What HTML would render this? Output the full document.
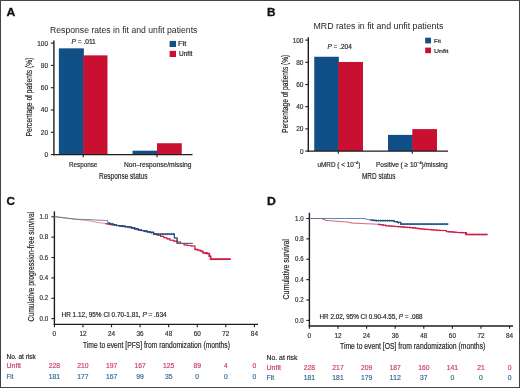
<!DOCTYPE html>
<html><head><meta charset="utf-8"><style>
html,body{margin:0;padding:0;background:#fff;}
svg{display:block;font-family:"Liberation Sans", sans-serif;will-change:transform;}

</style></head><body><div id="w">
<svg width="520" height="388" viewBox="0 0 520 388">
<rect x="0" y="0" width="520" height="388" fill="#fff"/>
<rect x="58.85" y="48.34" width="25.00" height="106.26" fill="#105087"/>
<rect x="83.25" y="55.36" width="24.25" height="99.23" fill="#c91030"/>
<rect x="132.50" y="150.70" width="25.10" height="3.90" fill="#105087"/>
<rect x="157.00" y="143.23" width="24.75" height="11.37" fill="#c91030"/>
<line x1="50.90" y1="154.60" x2="53.90" y2="154.60" stroke="#1e1e1e" stroke-width="1.1"/>
<line x1="50.90" y1="132.30" x2="53.90" y2="132.30" stroke="#1e1e1e" stroke-width="1.1"/>
<line x1="50.90" y1="110.00" x2="53.90" y2="110.00" stroke="#1e1e1e" stroke-width="1.1"/>
<line x1="50.90" y1="87.70" x2="53.90" y2="87.70" stroke="#1e1e1e" stroke-width="1.1"/>
<line x1="50.90" y1="65.40" x2="53.90" y2="65.40" stroke="#1e1e1e" stroke-width="1.1"/>
<line x1="50.90" y1="43.10" x2="53.90" y2="43.10" stroke="#1e1e1e" stroke-width="1.1"/>
<line x1="53.90" y1="40.50" x2="53.90" y2="155.25" stroke="#1e1e1e" stroke-width="1.4"/>
<line x1="53.25" y1="154.60" x2="192.50" y2="154.60" stroke="#1e1e1e" stroke-width="1.4"/>
<line x1="83.25" y1="154.60" x2="83.25" y2="157.20" stroke="#1e1e1e" stroke-width="1.1"/>
<line x1="157.00" y1="154.60" x2="157.00" y2="157.20" stroke="#1e1e1e" stroke-width="1.1"/>
<rect x="169.60" y="40.90" width="6.40" height="6.10" fill="#105087"/>
<rect x="169.60" y="50.90" width="6.40" height="6.10" fill="#c91030"/>
<rect x="314.25" y="56.75" width="24.60" height="94.35" fill="#105087"/>
<rect x="338.25" y="61.97" width="24.75" height="89.13" fill="#c91030"/>
<rect x="388.00" y="134.89" width="24.90" height="16.21" fill="#105087"/>
<rect x="412.30" y="129.12" width="24.70" height="21.98" fill="#c91030"/>
<line x1="305.30" y1="151.10" x2="308.30" y2="151.10" stroke="#1e1e1e" stroke-width="1.1"/>
<line x1="305.30" y1="128.90" x2="308.30" y2="128.90" stroke="#1e1e1e" stroke-width="1.1"/>
<line x1="305.30" y1="106.70" x2="308.30" y2="106.70" stroke="#1e1e1e" stroke-width="1.1"/>
<line x1="305.30" y1="84.50" x2="308.30" y2="84.50" stroke="#1e1e1e" stroke-width="1.1"/>
<line x1="305.30" y1="62.30" x2="308.30" y2="62.30" stroke="#1e1e1e" stroke-width="1.1"/>
<line x1="305.30" y1="40.10" x2="308.30" y2="40.10" stroke="#1e1e1e" stroke-width="1.1"/>
<line x1="308.30" y1="37.30" x2="308.30" y2="151.75" stroke="#1e1e1e" stroke-width="1.4"/>
<line x1="307.65" y1="151.10" x2="448.00" y2="151.10" stroke="#1e1e1e" stroke-width="1.4"/>
<line x1="338.25" y1="151.10" x2="338.25" y2="153.70" stroke="#1e1e1e" stroke-width="1.1"/>
<line x1="412.30" y1="151.10" x2="412.30" y2="153.70" stroke="#1e1e1e" stroke-width="1.1"/>
<rect x="425.20" y="37.70" width="5.80" height="5.70" fill="#105087"/>
<rect x="425.20" y="47.60" width="5.80" height="5.60" fill="#c91030"/>
<line x1="51.40" y1="318.60" x2="54.40" y2="318.60" stroke="#1e1e1e" stroke-width="1.1"/>
<line x1="51.40" y1="298.24" x2="54.40" y2="298.24" stroke="#1e1e1e" stroke-width="1.1"/>
<line x1="51.40" y1="277.88" x2="54.40" y2="277.88" stroke="#1e1e1e" stroke-width="1.1"/>
<line x1="51.40" y1="257.52" x2="54.40" y2="257.52" stroke="#1e1e1e" stroke-width="1.1"/>
<line x1="51.40" y1="237.16" x2="54.40" y2="237.16" stroke="#1e1e1e" stroke-width="1.1"/>
<line x1="51.40" y1="216.80" x2="54.40" y2="216.80" stroke="#1e1e1e" stroke-width="1.1"/>
<line x1="54.40" y1="211.40" x2="54.40" y2="325.05" stroke="#1e1e1e" stroke-width="1.4"/>
<line x1="53.75" y1="324.40" x2="258.00" y2="324.40" stroke="#1e1e1e" stroke-width="1.4"/>
<line x1="54.40" y1="324.40" x2="54.40" y2="327.20" stroke="#1e1e1e" stroke-width="1.1"/>
<line x1="82.97" y1="324.40" x2="82.97" y2="327.20" stroke="#1e1e1e" stroke-width="1.1"/>
<line x1="111.54" y1="324.40" x2="111.54" y2="327.20" stroke="#1e1e1e" stroke-width="1.1"/>
<line x1="140.11" y1="324.40" x2="140.11" y2="327.20" stroke="#1e1e1e" stroke-width="1.1"/>
<line x1="168.68" y1="324.40" x2="168.68" y2="327.20" stroke="#1e1e1e" stroke-width="1.1"/>
<line x1="197.25" y1="324.40" x2="197.25" y2="327.20" stroke="#1e1e1e" stroke-width="1.1"/>
<line x1="225.82" y1="324.40" x2="225.82" y2="327.20" stroke="#1e1e1e" stroke-width="1.1"/>
<line x1="254.39" y1="324.40" x2="254.39" y2="327.20" stroke="#1e1e1e" stroke-width="1.1"/>
<line x1="306.30" y1="320.40" x2="309.40" y2="320.40" stroke="#1e1e1e" stroke-width="1.1"/>
<line x1="306.30" y1="300.02" x2="309.40" y2="300.02" stroke="#1e1e1e" stroke-width="1.1"/>
<line x1="306.30" y1="279.64" x2="309.40" y2="279.64" stroke="#1e1e1e" stroke-width="1.1"/>
<line x1="306.30" y1="259.26" x2="309.40" y2="259.26" stroke="#1e1e1e" stroke-width="1.1"/>
<line x1="306.30" y1="238.88" x2="309.40" y2="238.88" stroke="#1e1e1e" stroke-width="1.1"/>
<line x1="306.30" y1="218.50" x2="309.40" y2="218.50" stroke="#1e1e1e" stroke-width="1.1"/>
<line x1="309.40" y1="212.70" x2="309.40" y2="326.65" stroke="#1e1e1e" stroke-width="1.4"/>
<line x1="308.75" y1="326.00" x2="513.00" y2="326.00" stroke="#1e1e1e" stroke-width="1.4"/>
<line x1="309.40" y1="326.00" x2="309.40" y2="328.80" stroke="#1e1e1e" stroke-width="1.1"/>
<line x1="338.00" y1="326.00" x2="338.00" y2="328.80" stroke="#1e1e1e" stroke-width="1.1"/>
<line x1="366.60" y1="326.00" x2="366.60" y2="328.80" stroke="#1e1e1e" stroke-width="1.1"/>
<line x1="395.20" y1="326.00" x2="395.20" y2="328.80" stroke="#1e1e1e" stroke-width="1.1"/>
<line x1="423.80" y1="326.00" x2="423.80" y2="328.80" stroke="#1e1e1e" stroke-width="1.1"/>
<line x1="452.40" y1="326.00" x2="452.40" y2="328.80" stroke="#1e1e1e" stroke-width="1.1"/>
<line x1="481.00" y1="326.00" x2="481.00" y2="328.80" stroke="#1e1e1e" stroke-width="1.1"/>
<line x1="509.60" y1="326.00" x2="509.60" y2="328.80" stroke="#1e1e1e" stroke-width="1.1"/>
<polyline points="54.4,216.8 57.0,216.8 57.0,217.1 59.7,217.1 59.7,217.4 62.4,217.4 62.4,217.8 65.0,217.8 65.0,218.1 68.5,218.1 68.5,218.6 71.9,218.6 71.9,219.0 75.4,219.0 75.4,219.5 78.9,219.5 78.9,219.8 82.3,219.8 82.3,220.2 85.8,220.2 85.8,220.5 89.2,220.5 89.2,221.1 92.7,221.1 92.7,221.8 96.1,221.8 96.1,222.4 99.0,222.4 99.0,222.8 101.9,222.8 101.9,223.2 104.8,223.2 104.8,223.7 107.7,223.7 107.7,224.1 110.6,224.1 110.6,224.6 113.6,224.6 113.6,225.0 116.5,225.0 116.5,225.5 119.4,225.5 119.4,225.9 122.2,225.9 122.2,226.2 125.1,226.2 125.1,226.6 128.0,226.6 128.0,227.0 131.4,227.0 131.4,227.9 134.8,227.9 134.8,228.9 138.2,228.9 138.2,229.8 141.2,229.8 141.2,230.5 144.2,230.5 144.2,231.1 147.2,231.1 147.2,231.8 150.2,231.8 150.2,232.4 153.6,232.4 153.6,234.1 157.1,234.1 157.1,235.2 160.6,235.2 160.6,236.4 163.7,236.4 163.7,237.7 166.9,237.7 166.9,238.9 170.0,238.9 170.0,240.2 173.6,240.2 173.6,241.1 177.1,241.1 177.1,242.0 180.6,242.0 180.6,243.5 184.0,243.5 184.0,245.0 187.5,245.0 187.5,245.5 191.0,245.5 191.0,246.0 195.0,246.0 195.0,249.4 197.9,249.4 197.9,250.2 200.8,250.2 200.8,251.1 203.0,251.1 203.0,252.9 207.1,252.9 207.1,253.5 209.4,253.5 209.4,256.3 210.6,256.3 210.6,259.2 230.7,259.2" fill="none" stroke="#e07890" stroke-width="0.8" stroke-linejoin="miter"/>
<polyline points="54.4,216.8 57.0,216.8 57.0,217.1 59.7,217.1 59.7,217.4 62.4,217.4 62.4,217.8 65.0,217.8 65.0,218.1 68.1,218.1 68.1,218.5 71.1,218.5 71.1,218.8 74.2,218.8 74.2,219.2 77.7,219.2 77.7,219.3 81.1,219.3 81.1,219.4 84.6,219.4 84.6,219.5 87.6,219.5 87.6,219.6 90.5,219.6 90.5,219.8 93.5,219.8 93.5,219.9 96.5,219.9 96.5,220.1 99.5,220.1 99.5,220.2 102.4,220.2 102.4,220.4 105.4,220.4 105.4,220.5 107.7,220.5 107.7,223.0 110.0,223.0 110.0,223.9 113.2,223.9 113.2,224.7 116.5,224.7 116.5,225.5 119.4,225.5 119.4,225.9 122.2,225.9 122.2,226.2 125.1,226.2 125.1,226.6 128.0,226.6 128.0,227.0 131.4,227.0 131.4,227.9 134.8,227.9 134.8,228.9 138.2,228.9 138.2,229.8 141.2,229.8 141.2,230.5 144.2,230.5 144.2,231.1 147.2,231.1 147.2,231.8 150.2,231.8 150.2,232.4 153.6,232.4 153.6,234.1 174.4,234.1 174.4,238.0 177.1,238.0 177.1,243.4 192.7,243.4" fill="none" stroke="#5a6b80" stroke-width="0.8" stroke-linejoin="miter"/>
<polyline points="105.0,223.7 107.7,223.7 107.7,224.1 110.6,224.1 110.6,224.6 113.6,224.6 113.6,225.0 116.5,225.0 116.5,225.5 119.4,225.5 119.4,225.9 122.2,225.9 122.2,226.2 125.1,226.2 125.1,226.6 128.0,226.6 128.0,227.0 131.4,227.0 131.4,227.9 134.8,227.9 134.8,228.9 138.2,228.9 138.2,229.8 141.2,229.8 141.2,230.5 144.2,230.5 144.2,231.1 147.2,231.1 147.2,231.8 150.2,231.8 150.2,232.4 153.6,232.4 153.6,234.1 157.1,234.1 157.1,235.2 160.6,235.2 160.6,236.4 163.7,236.4 163.7,237.7 166.9,237.7 166.9,238.9 170.0,238.9 170.0,240.2 173.6,240.2 173.6,241.1 177.1,241.1 177.1,242.0 180.6,242.0 180.6,243.5 184.0,243.5 184.0,245.0 187.5,245.0 187.5,245.5 191.0,245.5 191.0,246.0 195.0,246.0 195.0,249.4 197.9,249.4 197.9,250.2 200.8,250.2 200.8,251.1 203.0,251.1 203.0,252.9 207.1,252.9 207.1,253.5 209.4,253.5 209.4,256.3 210.6,256.3 210.6,259.2 230.7,259.2" fill="none" stroke="#d21a45" stroke-width="1.1" stroke-linejoin="miter"/>
<polyline points="205.0,253.2 207.1,253.2 207.1,253.5 209.4,253.5 209.4,256.3 210.6,256.3 210.6,259.2 230.7,259.2" fill="none" stroke="#d21a45" stroke-width="1.5" stroke-linejoin="miter"/>
<polyline points="108.0,223.1 110.0,223.1 110.0,223.9 113.2,223.9 113.2,224.7 116.5,224.7 116.5,225.5 119.4,225.5 119.4,225.9 122.2,225.9 122.2,226.2 125.1,226.2 125.1,226.6 128.0,226.6 128.0,227.0 131.4,227.0 131.4,227.9 134.8,227.9 134.8,228.9 138.2,228.9 138.2,229.8 141.2,229.8 141.2,230.5 144.2,230.5 144.2,231.1 147.2,231.1 147.2,231.8 150.2,231.8 150.2,232.4 153.6,232.4 153.6,234.1 174.4,234.1 174.4,238.0 177.1,238.0 177.1,243.4 177.5,243.4" fill="none" stroke="#1b4f86" stroke-width="1.2" stroke-linejoin="miter"/>
<polyline points="177.5,243.4 192.7,243.4" fill="none" stroke="#5c6478" stroke-width="1.1" stroke-linejoin="miter"/>
<line x1="110.00" y1="222.90" x2="110.00" y2="224.90" stroke="#1b4f86" stroke-width="0.8"/>
<line x1="112.20" y1="223.44" x2="112.20" y2="225.44" stroke="#1b4f86" stroke-width="0.8"/>
<line x1="114.40" y1="223.98" x2="114.40" y2="225.98" stroke="#1b4f86" stroke-width="0.8"/>
<line x1="116.60" y1="224.51" x2="116.60" y2="226.51" stroke="#1b4f86" stroke-width="0.8"/>
<line x1="118.80" y1="224.80" x2="118.80" y2="226.80" stroke="#1b4f86" stroke-width="0.8"/>
<line x1="121.00" y1="225.09" x2="121.00" y2="227.09" stroke="#1b4f86" stroke-width="0.8"/>
<line x1="123.20" y1="225.37" x2="123.20" y2="227.37" stroke="#1b4f86" stroke-width="0.8"/>
<line x1="125.40" y1="225.66" x2="125.40" y2="227.66" stroke="#1b4f86" stroke-width="0.8"/>
<line x1="127.60" y1="225.95" x2="127.60" y2="227.95" stroke="#1b4f86" stroke-width="0.8"/>
<line x1="129.80" y1="226.49" x2="129.80" y2="228.49" stroke="#1b4f86" stroke-width="0.8"/>
<line x1="132.00" y1="227.10" x2="132.00" y2="229.10" stroke="#1b4f86" stroke-width="0.8"/>
<line x1="134.20" y1="227.70" x2="134.20" y2="229.70" stroke="#1b4f86" stroke-width="0.8"/>
<line x1="136.40" y1="228.31" x2="136.40" y2="230.31" stroke="#1b4f86" stroke-width="0.8"/>
<line x1="138.60" y1="228.89" x2="138.60" y2="230.89" stroke="#1b4f86" stroke-width="0.8"/>
<line x1="140.80" y1="229.36" x2="140.80" y2="231.36" stroke="#1b4f86" stroke-width="0.8"/>
<line x1="143.00" y1="229.84" x2="143.00" y2="231.84" stroke="#1b4f86" stroke-width="0.8"/>
<line x1="145.20" y1="230.32" x2="145.20" y2="232.32" stroke="#1b4f86" stroke-width="0.8"/>
<line x1="147.40" y1="230.79" x2="147.40" y2="232.79" stroke="#1b4f86" stroke-width="0.8"/>
<line x1="149.60" y1="231.27" x2="149.60" y2="233.27" stroke="#1b4f86" stroke-width="0.8"/>
<line x1="151.80" y1="232.20" x2="151.80" y2="234.20" stroke="#1b4f86" stroke-width="0.8"/>
<line x1="154.00" y1="233.10" x2="154.00" y2="235.10" stroke="#1b4f86" stroke-width="0.8"/>
<line x1="156.20" y1="233.10" x2="156.20" y2="235.10" stroke="#1b4f86" stroke-width="0.8"/>
<line x1="158.40" y1="233.10" x2="158.40" y2="235.10" stroke="#1b4f86" stroke-width="0.8"/>
<line x1="160.60" y1="233.10" x2="160.60" y2="235.10" stroke="#1b4f86" stroke-width="0.8"/>
<line x1="162.80" y1="233.10" x2="162.80" y2="235.10" stroke="#1b4f86" stroke-width="0.8"/>
<line x1="165.00" y1="233.10" x2="165.00" y2="235.10" stroke="#1b4f86" stroke-width="0.8"/>
<line x1="167.20" y1="233.10" x2="167.20" y2="235.10" stroke="#1b4f86" stroke-width="0.8"/>
<line x1="169.40" y1="233.10" x2="169.40" y2="235.10" stroke="#1b4f86" stroke-width="0.8"/>
<line x1="171.60" y1="233.10" x2="171.60" y2="235.10" stroke="#1b4f86" stroke-width="0.8"/>
<line x1="173.80" y1="233.10" x2="173.80" y2="235.10" stroke="#1b4f86" stroke-width="0.8"/>
<line x1="195.00" y1="248.40" x2="195.00" y2="250.40" stroke="#d21a45" stroke-width="0.8"/>
<line x1="197.00" y1="248.99" x2="197.00" y2="250.99" stroke="#d21a45" stroke-width="0.8"/>
<line x1="199.00" y1="249.57" x2="199.00" y2="251.57" stroke="#d21a45" stroke-width="0.8"/>
<line x1="201.00" y1="250.26" x2="201.00" y2="252.26" stroke="#d21a45" stroke-width="0.8"/>
<line x1="203.00" y1="251.90" x2="203.00" y2="253.90" stroke="#d21a45" stroke-width="0.8"/>
<line x1="205.00" y1="252.19" x2="205.00" y2="254.19" stroke="#d21a45" stroke-width="0.8"/>
<line x1="207.00" y1="252.49" x2="207.00" y2="254.49" stroke="#d21a45" stroke-width="0.8"/>
<line x1="209.00" y1="254.81" x2="209.00" y2="256.81" stroke="#d21a45" stroke-width="0.8"/>
<line x1="211.00" y1="258.20" x2="211.00" y2="260.20" stroke="#d21a45" stroke-width="0.8"/>
<line x1="213.00" y1="258.20" x2="213.00" y2="260.20" stroke="#d21a45" stroke-width="0.8"/>
<line x1="215.00" y1="258.20" x2="215.00" y2="260.20" stroke="#d21a45" stroke-width="0.8"/>
<line x1="217.00" y1="258.20" x2="217.00" y2="260.20" stroke="#d21a45" stroke-width="0.8"/>
<line x1="219.00" y1="258.20" x2="219.00" y2="260.20" stroke="#d21a45" stroke-width="0.8"/>
<line x1="221.00" y1="258.20" x2="221.00" y2="260.20" stroke="#d21a45" stroke-width="0.8"/>
<line x1="223.00" y1="258.20" x2="223.00" y2="260.20" stroke="#d21a45" stroke-width="0.8"/>
<line x1="225.00" y1="258.20" x2="225.00" y2="260.20" stroke="#d21a45" stroke-width="0.8"/>
<line x1="227.00" y1="258.20" x2="227.00" y2="260.20" stroke="#d21a45" stroke-width="0.8"/>
<line x1="229.00" y1="258.20" x2="229.00" y2="260.20" stroke="#d21a45" stroke-width="0.8"/>
<polyline points="309.4,218.5 320.4,218.5 322.7,218.5 322.7,219.5 325.0,219.5 325.0,220.5 328.1,220.5 328.1,220.7 331.1,220.7 331.1,220.9 334.2,220.9 334.2,221.1 337.3,221.1 337.3,221.4 340.4,221.4 340.4,221.6 343.4,221.6 343.4,221.8 346.5,221.8 346.5,222.0 348.8,222.0 348.8,222.6 351.0,222.6 351.0,223.1 354.1,223.1 354.1,223.2 357.2,223.2 357.2,223.4 360.3,223.4 360.3,223.5 363.4,223.5 363.4,223.7 366.5,223.7 366.5,223.8 369.6,223.8 369.6,223.9 372.7,223.9 372.7,224.1 375.8,224.1 375.8,224.2 380.0,224.2 380.0,224.6 382.9,224.6 382.9,225.2 385.8,225.2 385.8,225.8 388.8,225.8 388.8,226.0 391.9,226.0 391.9,226.2 394.9,226.2 394.9,226.5 397.9,226.5 397.9,226.7 400.9,226.7 400.9,226.9 403.9,226.9 403.9,227.2 407.0,227.2 407.0,227.4 410.0,227.4 410.0,227.6 412.8,227.6 412.8,227.9 415.5,227.9 415.5,228.3 418.3,228.3 418.3,228.6 421.0,228.6 421.0,229.0 423.8,229.0 423.8,229.3 427.0,229.3 427.0,229.5 430.3,229.5 430.3,229.8 433.5,229.8 433.5,230.0 436.8,230.0 436.8,230.3 440.0,230.3 440.0,230.5 445.4,230.5 446.5,230.5 446.5,231.6 450.0,231.6 450.0,231.9 453.4,231.9 453.4,232.2 456.9,232.2 456.9,232.5 460.0,232.5 460.0,232.6 463.0,232.6 463.0,232.7 466.1,232.7 466.1,232.8 466.1,234.5 487.5,234.5" fill="none" stroke="#d8506e" stroke-width="0.9" stroke-linejoin="miter"/>
<polyline points="309.4,218.5 362.0,218.5 364.5,218.5 364.5,219.0 367.1,219.0 367.1,219.5 369.6,219.5 369.6,220.0 372.7,220.0 372.7,220.3 375.8,220.3 375.8,220.6 391.0,220.6 394.1,220.6 394.1,221.5 397.3,221.5 397.3,222.4 400.8,222.4 400.8,224.1 448.3,224.1" fill="none" stroke="#4a7ca8" stroke-width="0.9" stroke-linejoin="miter"/>
<polyline points="378.0,224.4 380.0,224.6 382.9,224.6 382.9,225.2 385.8,225.2 385.8,225.8 388.8,225.8 388.8,226.0 391.9,226.0 391.9,226.2 394.9,226.2 394.9,226.5 397.9,226.5 397.9,226.7 400.9,226.7 400.9,226.9 403.9,226.9 403.9,227.2 407.0,227.2 407.0,227.4 410.0,227.4 410.0,227.6 412.8,227.6 412.8,227.9 415.5,227.9 415.5,228.3 418.3,228.3 418.3,228.6 421.0,228.6 421.0,229.0 423.8,229.0 423.8,229.3 427.0,229.3 427.0,229.5 430.3,229.5 430.3,229.8 433.5,229.8 433.5,230.0 436.8,230.0 436.8,230.3 440.0,230.3 440.0,230.5 445.4,230.5 446.5,230.5 446.5,231.6 450.0,231.6 450.0,231.9 453.4,231.9 453.4,232.2 456.9,232.2 456.9,232.5 460.0,232.5 460.0,232.6 463.0,232.6 463.0,232.7 466.1,232.7 466.1,232.8 466.1,234.5 487.5,234.5" fill="none" stroke="#d21a45" stroke-width="1.1" stroke-linejoin="miter"/>
<polyline points="465.0,232.8 466.1,232.8 466.1,234.5 487.5,234.5" fill="none" stroke="#d21a45" stroke-width="1.6" stroke-linejoin="miter"/>
<polyline points="370.0,220.0 372.9,220.0 372.9,220.3 375.8,220.3 375.8,220.6 391.0,220.6 394.1,220.6 394.1,221.5 397.3,221.5 397.3,222.4 400.8,222.4 400.8,224.1 448.3,224.1" fill="none" stroke="#1b4f86" stroke-width="1.2" stroke-linejoin="miter"/>
<line x1="372.00" y1="219.23" x2="372.00" y2="221.23" stroke="#1b4f86" stroke-width="0.8"/>
<line x1="374.20" y1="219.45" x2="374.20" y2="221.45" stroke="#1b4f86" stroke-width="0.8"/>
<line x1="376.40" y1="219.60" x2="376.40" y2="221.60" stroke="#1b4f86" stroke-width="0.8"/>
<line x1="378.60" y1="219.60" x2="378.60" y2="221.60" stroke="#1b4f86" stroke-width="0.8"/>
<line x1="380.80" y1="219.60" x2="380.80" y2="221.60" stroke="#1b4f86" stroke-width="0.8"/>
<line x1="383.00" y1="219.60" x2="383.00" y2="221.60" stroke="#1b4f86" stroke-width="0.8"/>
<line x1="385.20" y1="219.60" x2="385.20" y2="221.60" stroke="#1b4f86" stroke-width="0.8"/>
<line x1="387.40" y1="219.60" x2="387.40" y2="221.60" stroke="#1b4f86" stroke-width="0.8"/>
<line x1="389.60" y1="219.60" x2="389.60" y2="221.60" stroke="#1b4f86" stroke-width="0.8"/>
<line x1="391.80" y1="219.83" x2="391.80" y2="221.83" stroke="#1b4f86" stroke-width="0.8"/>
<line x1="394.00" y1="220.46" x2="394.00" y2="222.46" stroke="#1b4f86" stroke-width="0.8"/>
<line x1="396.20" y1="221.09" x2="396.20" y2="223.09" stroke="#1b4f86" stroke-width="0.8"/>
<line x1="398.40" y1="221.93" x2="398.40" y2="223.93" stroke="#1b4f86" stroke-width="0.8"/>
<line x1="400.60" y1="223.00" x2="400.60" y2="225.00" stroke="#1b4f86" stroke-width="0.8"/>
<line x1="402.80" y1="223.10" x2="402.80" y2="225.10" stroke="#1b4f86" stroke-width="0.8"/>
<line x1="405.00" y1="223.10" x2="405.00" y2="225.10" stroke="#1b4f86" stroke-width="0.8"/>
<line x1="407.20" y1="223.10" x2="407.20" y2="225.10" stroke="#1b4f86" stroke-width="0.8"/>
<line x1="409.40" y1="223.10" x2="409.40" y2="225.10" stroke="#1b4f86" stroke-width="0.8"/>
<line x1="411.60" y1="223.10" x2="411.60" y2="225.10" stroke="#1b4f86" stroke-width="0.8"/>
<line x1="413.80" y1="223.10" x2="413.80" y2="225.10" stroke="#1b4f86" stroke-width="0.8"/>
<line x1="416.00" y1="223.10" x2="416.00" y2="225.10" stroke="#1b4f86" stroke-width="0.8"/>
<line x1="418.20" y1="223.10" x2="418.20" y2="225.10" stroke="#1b4f86" stroke-width="0.8"/>
<line x1="420.40" y1="223.10" x2="420.40" y2="225.10" stroke="#1b4f86" stroke-width="0.8"/>
<line x1="422.60" y1="223.10" x2="422.60" y2="225.10" stroke="#1b4f86" stroke-width="0.8"/>
<line x1="424.80" y1="223.10" x2="424.80" y2="225.10" stroke="#1b4f86" stroke-width="0.8"/>
<line x1="427.00" y1="223.10" x2="427.00" y2="225.10" stroke="#1b4f86" stroke-width="0.8"/>
<line x1="429.20" y1="223.10" x2="429.20" y2="225.10" stroke="#1b4f86" stroke-width="0.8"/>
<line x1="431.40" y1="223.10" x2="431.40" y2="225.10" stroke="#1b4f86" stroke-width="0.8"/>
<line x1="433.60" y1="223.10" x2="433.60" y2="225.10" stroke="#1b4f86" stroke-width="0.8"/>
<line x1="435.80" y1="223.10" x2="435.80" y2="225.10" stroke="#1b4f86" stroke-width="0.8"/>
<line x1="438.00" y1="223.10" x2="438.00" y2="225.10" stroke="#1b4f86" stroke-width="0.8"/>
<line x1="440.20" y1="223.10" x2="440.20" y2="225.10" stroke="#1b4f86" stroke-width="0.8"/>
<line x1="442.40" y1="223.10" x2="442.40" y2="225.10" stroke="#1b4f86" stroke-width="0.8"/>
<line x1="444.60" y1="223.10" x2="444.60" y2="225.10" stroke="#1b4f86" stroke-width="0.8"/>
<line x1="446.80" y1="223.10" x2="446.80" y2="225.10" stroke="#1b4f86" stroke-width="0.8"/>
<line x1="380.00" y1="223.70" x2="380.00" y2="225.50" stroke="#d21a45" stroke-width="0.7"/>
<line x1="383.00" y1="224.32" x2="383.00" y2="226.12" stroke="#d21a45" stroke-width="0.7"/>
<line x1="386.00" y1="224.91" x2="386.00" y2="226.71" stroke="#d21a45" stroke-width="0.7"/>
<line x1="389.00" y1="225.14" x2="389.00" y2="226.94" stroke="#d21a45" stroke-width="0.7"/>
<line x1="392.00" y1="225.36" x2="392.00" y2="227.16" stroke="#d21a45" stroke-width="0.7"/>
<line x1="395.00" y1="225.58" x2="395.00" y2="227.38" stroke="#d21a45" stroke-width="0.7"/>
<line x1="398.00" y1="225.81" x2="398.00" y2="227.61" stroke="#d21a45" stroke-width="0.7"/>
<line x1="401.00" y1="226.03" x2="401.00" y2="227.83" stroke="#d21a45" stroke-width="0.7"/>
<line x1="404.00" y1="226.25" x2="404.00" y2="228.05" stroke="#d21a45" stroke-width="0.7"/>
<line x1="407.00" y1="226.48" x2="407.00" y2="228.28" stroke="#d21a45" stroke-width="0.7"/>
<line x1="410.00" y1="226.70" x2="410.00" y2="228.50" stroke="#d21a45" stroke-width="0.7"/>
<line x1="413.00" y1="227.07" x2="413.00" y2="228.87" stroke="#d21a45" stroke-width="0.7"/>
<line x1="416.00" y1="227.44" x2="416.00" y2="229.24" stroke="#d21a45" stroke-width="0.7"/>
<line x1="419.00" y1="227.81" x2="419.00" y2="229.61" stroke="#d21a45" stroke-width="0.7"/>
<line x1="422.00" y1="228.18" x2="422.00" y2="229.98" stroke="#d21a45" stroke-width="0.7"/>
<line x1="425.00" y1="228.49" x2="425.00" y2="230.29" stroke="#d21a45" stroke-width="0.7"/>
<line x1="428.00" y1="228.71" x2="428.00" y2="230.51" stroke="#d21a45" stroke-width="0.7"/>
<line x1="431.00" y1="228.93" x2="431.00" y2="230.73" stroke="#d21a45" stroke-width="0.7"/>
<line x1="434.00" y1="229.16" x2="434.00" y2="230.96" stroke="#d21a45" stroke-width="0.7"/>
<line x1="437.00" y1="229.38" x2="437.00" y2="231.18" stroke="#d21a45" stroke-width="0.7"/>
<line x1="440.00" y1="229.60" x2="440.00" y2="231.40" stroke="#d21a45" stroke-width="0.7"/>
<line x1="443.00" y1="229.60" x2="443.00" y2="231.40" stroke="#d21a45" stroke-width="0.7"/>
<line x1="446.00" y1="230.20" x2="446.00" y2="232.00" stroke="#d21a45" stroke-width="0.7"/>
<line x1="449.00" y1="230.92" x2="449.00" y2="232.72" stroke="#d21a45" stroke-width="0.7"/>
<line x1="452.00" y1="231.18" x2="452.00" y2="232.98" stroke="#d21a45" stroke-width="0.7"/>
<line x1="455.00" y1="231.44" x2="455.00" y2="233.24" stroke="#d21a45" stroke-width="0.7"/>
<line x1="458.00" y1="231.64" x2="458.00" y2="233.44" stroke="#d21a45" stroke-width="0.7"/>
<line x1="461.00" y1="231.73" x2="461.00" y2="233.53" stroke="#d21a45" stroke-width="0.7"/>
<line x1="464.00" y1="231.83" x2="464.00" y2="233.63" stroke="#d21a45" stroke-width="0.7"/>
<line x1="467.00" y1="233.60" x2="467.00" y2="235.40" stroke="#d21a45" stroke-width="0.7"/>
<line x1="470.00" y1="233.60" x2="470.00" y2="235.40" stroke="#d21a45" stroke-width="0.7"/>
<line x1="473.00" y1="233.60" x2="473.00" y2="235.40" stroke="#d21a45" stroke-width="0.7"/>
<line x1="476.00" y1="233.60" x2="476.00" y2="235.40" stroke="#d21a45" stroke-width="0.7"/>
<line x1="479.00" y1="233.60" x2="479.00" y2="235.40" stroke="#d21a45" stroke-width="0.7"/>
<line x1="482.00" y1="233.60" x2="482.00" y2="235.40" stroke="#d21a45" stroke-width="0.7"/>
<line x1="485.00" y1="233.60" x2="485.00" y2="235.40" stroke="#d21a45" stroke-width="0.7"/>
<text x="6.50" y="16.0" font-size="11.2" font-weight="bold" fill="#111" stroke="#111" stroke-width="0.3" textLength="8.80" lengthAdjust="spacingAndGlyphs">A</text>
<text x="50.00" y="32.9" font-size="8.4" font-weight="normal" fill="#262626" stroke="#262626" stroke-width="0.0" textLength="147.38" lengthAdjust="spacingAndGlyphs">Response rates in fit and unfit patients</text>
<text x="71.50" y="43.8" font-size="6.4" font-weight="normal" fill="#262626" stroke="#262626" stroke-width="0.18" textLength="24.21" lengthAdjust="spacingAndGlyphs"><tspan font-style="italic">P</tspan> = .011</text>
<text x="178.00" y="46.0" font-size="6.3" font-weight="normal" fill="#262626" stroke="#262626" stroke-width="0.18" textLength="8.41" lengthAdjust="spacingAndGlyphs">Fit</text>
<text x="179.00" y="55.9" font-size="6.3" font-weight="normal" fill="#262626" stroke="#262626" stroke-width="0.18" textLength="13.42" lengthAdjust="spacingAndGlyphs">Unfit</text>
<text x="69.00" y="166.8" font-size="7.2" font-weight="normal" fill="#262626" stroke="#262626" stroke-width="0.18" textLength="28.34" lengthAdjust="spacingAndGlyphs">Response</text>
<text x="124.00" y="166.8" font-size="7.2" font-weight="normal" fill="#262626" stroke="#262626" stroke-width="0.18" textLength="67.48" lengthAdjust="spacingAndGlyphs">Non–response/missing</text>
<text x="99.00" y="179.2" font-size="9.0" font-weight="normal" fill="#262626" stroke="#262626" stroke-width="0.18" textLength="48.45" lengthAdjust="spacingAndGlyphs">Response status</text>
<text x="267.00" y="15.8" font-size="11.0" font-weight="bold" fill="#111" stroke="#111" stroke-width="0.3" textLength="8.49" lengthAdjust="spacingAndGlyphs">B</text>
<text x="313.50" y="29.2" font-size="8.5" font-weight="normal" fill="#262626" stroke="#262626" stroke-width="0.0" textLength="129.83" lengthAdjust="spacingAndGlyphs">MRD rates in fit and unfit patients</text>
<text x="327.50" y="49.2" font-size="6.4" font-weight="normal" fill="#262626" stroke="#262626" stroke-width="0.18" textLength="24.25" lengthAdjust="spacingAndGlyphs"><tspan font-style="italic">P</tspan> = .204</text>
<text x="434.00" y="42.8" font-size="6.2" font-weight="normal" fill="#262626" stroke="#262626" stroke-width="0.18" textLength="6.85" lengthAdjust="spacingAndGlyphs">Fit</text>
<text x="434.00" y="52.8" font-size="6.2" font-weight="normal" fill="#262626" stroke="#262626" stroke-width="0.18" textLength="14.47" lengthAdjust="spacingAndGlyphs">Unfit</text>
<text x="317.50" y="167.0" font-size="7.0" font-weight="normal" fill="#262626" stroke="#262626" stroke-width="0.18" textLength="42.77" lengthAdjust="spacingAndGlyphs">uMRD ( &lt; 10<tspan font-size="4.2" dy="-3">−4</tspan><tspan dy="3">)</tspan></text>
<text x="376.00" y="167.0" font-size="7.0" font-weight="normal" fill="#262626" stroke="#262626" stroke-width="0.18" textLength="71.61" lengthAdjust="spacingAndGlyphs">Positive ( ≥ 10<tspan font-size="4.2" dy="-3">−4</tspan><tspan dy="3">)/missing</tspan></text>
<text x="362.00" y="179.2" font-size="8.7" font-weight="normal" fill="#262626" stroke="#262626" stroke-width="0.18" textLength="33.51" lengthAdjust="spacingAndGlyphs">MRD status</text>
<text x="6.50" y="205.0" font-size="11.0" font-weight="bold" fill="#111" stroke="#111" stroke-width="0.3" textLength="8.47" lengthAdjust="spacingAndGlyphs">C</text>
<text x="267.00" y="205.0" font-size="11.0" font-weight="bold" fill="#111" stroke="#111" stroke-width="0.3" textLength="8.84" lengthAdjust="spacingAndGlyphs">D</text>
<text x="83.00" y="347.5" font-size="8.5" font-weight="normal" fill="#262626" stroke="#262626" stroke-width="0.18" textLength="146.91" lengthAdjust="spacingAndGlyphs">Time to event [PFS] from randomization (months)</text>
<text x="340.00" y="349.3" font-size="8.5" font-weight="normal" fill="#262626" stroke="#262626" stroke-width="0.18" textLength="145.32" lengthAdjust="spacingAndGlyphs">Time to event [OS] from randomization (months)</text>
<text x="61.50" y="317.0" font-size="6.6" font-weight="normal" fill="#262626" stroke="#262626" stroke-width="0.18" textLength="105.12" lengthAdjust="spacingAndGlyphs">HR 1.12, 95% CI 0.70-1.81, <tspan font-style="italic">P</tspan> = .634</text>
<text x="319.50" y="318.6" font-size="6.6" font-weight="normal" fill="#262626" stroke="#262626" stroke-width="0.18" textLength="103.09" lengthAdjust="spacingAndGlyphs">HR 2.02, 95% CI 0.90-4.55, <tspan font-style="italic">P</tspan> = .088</text>
<text x="6.50" y="358.7" font-size="6.8" font-weight="normal" fill="#262626" stroke="#262626" stroke-width="0.18" textLength="29.36" lengthAdjust="spacingAndGlyphs">No. at risk</text>
<text x="6.50" y="368.3" font-size="6.8" font-weight="normal" fill="#cc4066" stroke="#cc4066" stroke-width="0.18" textLength="14.45" lengthAdjust="spacingAndGlyphs">Unfit</text>
<text x="6.50" y="378.8" font-size="6.8" font-weight="normal" fill="#356c94" stroke="#356c94" stroke-width="0.18" textLength="6.85" lengthAdjust="spacingAndGlyphs">Fit</text>
<text x="266.50" y="360.0" font-size="6.8" font-weight="normal" fill="#262626" stroke="#262626" stroke-width="0.18" textLength="30.91" lengthAdjust="spacingAndGlyphs">No. at risk</text>
<text x="266.50" y="369.9" font-size="6.8" font-weight="normal" fill="#cc4066" stroke="#cc4066" stroke-width="0.18" textLength="14.45" lengthAdjust="spacingAndGlyphs">Unfit</text>
<text x="266.50" y="379.8" font-size="6.8" font-weight="normal" fill="#356c94" stroke="#356c94" stroke-width="0.18" textLength="7.83" lengthAdjust="spacingAndGlyphs">Fit</text>
<text transform="translate(32.0,136.50) rotate(-90)" x="0" y="0" font-size="8.5" fill="#262626" stroke="#262626" stroke-width="0.18" textLength="78.85" lengthAdjust="spacingAndGlyphs">Percentage of patients (%)</text>
<text transform="translate(287.5,133.00) rotate(-90)" x="0" y="0" font-size="8.5" fill="#262626" stroke="#262626" stroke-width="0.18" textLength="78.31" lengthAdjust="spacingAndGlyphs">Percentage of patients (%)</text>
<text transform="translate(34.0,321.50) rotate(-90)" x="0" y="0" font-size="8.6" fill="#262626" stroke="#262626" stroke-width="0.18" textLength="109.77" lengthAdjust="spacingAndGlyphs">Cumulative progression-free survival</text>
<text transform="translate(289.2,299.50) rotate(-90)" x="0" y="0" font-size="8.6" fill="#262626" stroke="#262626" stroke-width="0.18" textLength="60.32" lengthAdjust="spacingAndGlyphs">Cumulative survival</text>
<text x="48.10" y="157.00" font-size="6.7" text-anchor="end" fill="#333333" stroke="#333333" stroke-width="0.18" textLength="3.61" lengthAdjust="spacingAndGlyphs">0</text>
<text x="303.50" y="153.50" font-size="6.7" text-anchor="end" fill="#333333" stroke="#333333" stroke-width="0.18" textLength="3.61" lengthAdjust="spacingAndGlyphs">0</text>
<text x="48.10" y="134.70" font-size="6.7" text-anchor="end" fill="#333333" stroke="#333333" stroke-width="0.18" textLength="7.23" lengthAdjust="spacingAndGlyphs">20</text>
<text x="303.50" y="131.30" font-size="6.7" text-anchor="end" fill="#333333" stroke="#333333" stroke-width="0.18" textLength="7.23" lengthAdjust="spacingAndGlyphs">20</text>
<text x="48.10" y="112.40" font-size="6.7" text-anchor="end" fill="#333333" stroke="#333333" stroke-width="0.18" textLength="7.23" lengthAdjust="spacingAndGlyphs">40</text>
<text x="303.50" y="109.10" font-size="6.7" text-anchor="end" fill="#333333" stroke="#333333" stroke-width="0.18" textLength="7.23" lengthAdjust="spacingAndGlyphs">40</text>
<text x="48.10" y="90.10" font-size="6.7" text-anchor="end" fill="#333333" stroke="#333333" stroke-width="0.18" textLength="7.23" lengthAdjust="spacingAndGlyphs">60</text>
<text x="303.50" y="86.90" font-size="6.7" text-anchor="end" fill="#333333" stroke="#333333" stroke-width="0.18" textLength="7.23" lengthAdjust="spacingAndGlyphs">60</text>
<text x="48.10" y="67.80" font-size="6.7" text-anchor="end" fill="#333333" stroke="#333333" stroke-width="0.18" textLength="7.23" lengthAdjust="spacingAndGlyphs">80</text>
<text x="303.50" y="64.70" font-size="6.7" text-anchor="end" fill="#333333" stroke="#333333" stroke-width="0.18" textLength="7.23" lengthAdjust="spacingAndGlyphs">80</text>
<text x="48.10" y="45.50" font-size="6.7" text-anchor="end" fill="#333333" stroke="#333333" stroke-width="0.18" textLength="10.84" lengthAdjust="spacingAndGlyphs">100</text>
<text x="303.50" y="42.50" font-size="6.7" text-anchor="end" fill="#333333" stroke="#333333" stroke-width="0.18" textLength="10.84" lengthAdjust="spacingAndGlyphs">100</text>
<text x="48.10" y="320.80" font-size="6.3" text-anchor="end" fill="#333333" stroke="#333333" stroke-width="0.18" textLength="8.49" lengthAdjust="spacingAndGlyphs">0.0</text>
<text x="303.60" y="322.60" font-size="6.3" text-anchor="end" fill="#333333" stroke="#333333" stroke-width="0.18" textLength="8.49" lengthAdjust="spacingAndGlyphs">0.0</text>
<text x="48.10" y="300.44" font-size="6.3" text-anchor="end" fill="#333333" stroke="#333333" stroke-width="0.18" textLength="8.49" lengthAdjust="spacingAndGlyphs">0.2</text>
<text x="303.60" y="302.22" font-size="6.3" text-anchor="end" fill="#333333" stroke="#333333" stroke-width="0.18" textLength="8.49" lengthAdjust="spacingAndGlyphs">0.2</text>
<text x="48.10" y="280.08" font-size="6.3" text-anchor="end" fill="#333333" stroke="#333333" stroke-width="0.18" textLength="8.49" lengthAdjust="spacingAndGlyphs">0.4</text>
<text x="303.60" y="281.84" font-size="6.3" text-anchor="end" fill="#333333" stroke="#333333" stroke-width="0.18" textLength="8.49" lengthAdjust="spacingAndGlyphs">0.4</text>
<text x="48.10" y="259.72" font-size="6.3" text-anchor="end" fill="#333333" stroke="#333333" stroke-width="0.18" textLength="8.49" lengthAdjust="spacingAndGlyphs">0.6</text>
<text x="303.60" y="261.46" font-size="6.3" text-anchor="end" fill="#333333" stroke="#333333" stroke-width="0.18" textLength="8.49" lengthAdjust="spacingAndGlyphs">0.6</text>
<text x="48.10" y="239.36" font-size="6.3" text-anchor="end" fill="#333333" stroke="#333333" stroke-width="0.18" textLength="8.49" lengthAdjust="spacingAndGlyphs">0.8</text>
<text x="303.60" y="241.08" font-size="6.3" text-anchor="end" fill="#333333" stroke="#333333" stroke-width="0.18" textLength="8.49" lengthAdjust="spacingAndGlyphs">0.8</text>
<text x="48.10" y="219.00" font-size="6.3" text-anchor="end" fill="#333333" stroke="#333333" stroke-width="0.18" textLength="8.49" lengthAdjust="spacingAndGlyphs">1.0</text>
<text x="303.60" y="220.70" font-size="6.3" text-anchor="end" fill="#333333" stroke="#333333" stroke-width="0.18" textLength="8.49" lengthAdjust="spacingAndGlyphs">1.0</text>
<text x="54.40" y="335.90" font-size="6.6" text-anchor="middle" fill="#333333" stroke="#333333" stroke-width="0.18" textLength="3.56" lengthAdjust="spacingAndGlyphs">0</text>
<text x="309.40" y="337.60" font-size="6.6" text-anchor="middle" fill="#333333" stroke="#333333" stroke-width="0.18" textLength="3.56" lengthAdjust="spacingAndGlyphs">0</text>
<text x="82.97" y="335.90" font-size="6.6" text-anchor="middle" fill="#333333" stroke="#333333" stroke-width="0.18" textLength="7.12" lengthAdjust="spacingAndGlyphs">12</text>
<text x="338.00" y="337.60" font-size="6.6" text-anchor="middle" fill="#333333" stroke="#333333" stroke-width="0.18" textLength="7.12" lengthAdjust="spacingAndGlyphs">12</text>
<text x="111.54" y="335.90" font-size="6.6" text-anchor="middle" fill="#333333" stroke="#333333" stroke-width="0.18" textLength="7.12" lengthAdjust="spacingAndGlyphs">24</text>
<text x="366.60" y="337.60" font-size="6.6" text-anchor="middle" fill="#333333" stroke="#333333" stroke-width="0.18" textLength="7.12" lengthAdjust="spacingAndGlyphs">24</text>
<text x="140.11" y="335.90" font-size="6.6" text-anchor="middle" fill="#333333" stroke="#333333" stroke-width="0.18" textLength="7.12" lengthAdjust="spacingAndGlyphs">36</text>
<text x="395.20" y="337.60" font-size="6.6" text-anchor="middle" fill="#333333" stroke="#333333" stroke-width="0.18" textLength="7.12" lengthAdjust="spacingAndGlyphs">36</text>
<text x="168.68" y="335.90" font-size="6.6" text-anchor="middle" fill="#333333" stroke="#333333" stroke-width="0.18" textLength="7.12" lengthAdjust="spacingAndGlyphs">48</text>
<text x="423.80" y="337.60" font-size="6.6" text-anchor="middle" fill="#333333" stroke="#333333" stroke-width="0.18" textLength="7.12" lengthAdjust="spacingAndGlyphs">48</text>
<text x="197.25" y="335.90" font-size="6.6" text-anchor="middle" fill="#333333" stroke="#333333" stroke-width="0.18" textLength="7.12" lengthAdjust="spacingAndGlyphs">60</text>
<text x="452.40" y="337.60" font-size="6.6" text-anchor="middle" fill="#333333" stroke="#333333" stroke-width="0.18" textLength="7.12" lengthAdjust="spacingAndGlyphs">60</text>
<text x="225.82" y="335.90" font-size="6.6" text-anchor="middle" fill="#333333" stroke="#333333" stroke-width="0.18" textLength="7.12" lengthAdjust="spacingAndGlyphs">72</text>
<text x="481.00" y="337.60" font-size="6.6" text-anchor="middle" fill="#333333" stroke="#333333" stroke-width="0.18" textLength="7.12" lengthAdjust="spacingAndGlyphs">72</text>
<text x="254.39" y="335.90" font-size="6.6" text-anchor="middle" fill="#333333" stroke="#333333" stroke-width="0.18" textLength="7.12" lengthAdjust="spacingAndGlyphs">84</text>
<text x="509.60" y="337.60" font-size="6.6" text-anchor="middle" fill="#333333" stroke="#333333" stroke-width="0.18" textLength="7.12" lengthAdjust="spacingAndGlyphs">84</text>
<text x="54.40" y="368.40" font-size="7.0" text-anchor="middle" fill="#cc4066" stroke="#cc4066" stroke-width="0.18" textLength="11.33" lengthAdjust="spacingAndGlyphs">228</text>
<text x="54.40" y="378.90" font-size="7.0" text-anchor="middle" fill="#356c94" stroke="#356c94" stroke-width="0.18" textLength="11.33" lengthAdjust="spacingAndGlyphs">181</text>
<text x="82.97" y="368.40" font-size="7.0" text-anchor="middle" fill="#cc4066" stroke="#cc4066" stroke-width="0.18" textLength="11.33" lengthAdjust="spacingAndGlyphs">210</text>
<text x="82.97" y="378.90" font-size="7.0" text-anchor="middle" fill="#356c94" stroke="#356c94" stroke-width="0.18" textLength="11.33" lengthAdjust="spacingAndGlyphs">177</text>
<text x="111.54" y="368.40" font-size="7.0" text-anchor="middle" fill="#cc4066" stroke="#cc4066" stroke-width="0.18" textLength="11.33" lengthAdjust="spacingAndGlyphs">197</text>
<text x="111.54" y="378.90" font-size="7.0" text-anchor="middle" fill="#356c94" stroke="#356c94" stroke-width="0.18" textLength="11.33" lengthAdjust="spacingAndGlyphs">167</text>
<text x="140.11" y="368.40" font-size="7.0" text-anchor="middle" fill="#cc4066" stroke="#cc4066" stroke-width="0.18" textLength="11.33" lengthAdjust="spacingAndGlyphs">167</text>
<text x="140.11" y="378.90" font-size="7.0" text-anchor="middle" fill="#356c94" stroke="#356c94" stroke-width="0.18" textLength="7.55" lengthAdjust="spacingAndGlyphs">99</text>
<text x="168.68" y="368.40" font-size="7.0" text-anchor="middle" fill="#cc4066" stroke="#cc4066" stroke-width="0.18" textLength="11.33" lengthAdjust="spacingAndGlyphs">125</text>
<text x="168.68" y="378.90" font-size="7.0" text-anchor="middle" fill="#356c94" stroke="#356c94" stroke-width="0.18" textLength="7.55" lengthAdjust="spacingAndGlyphs">35</text>
<text x="197.25" y="368.40" font-size="7.0" text-anchor="middle" fill="#cc4066" stroke="#cc4066" stroke-width="0.18" textLength="7.55" lengthAdjust="spacingAndGlyphs">89</text>
<text x="197.25" y="378.90" font-size="7.0" text-anchor="middle" fill="#356c94" stroke="#356c94" stroke-width="0.18" textLength="3.78" lengthAdjust="spacingAndGlyphs">0</text>
<text x="225.82" y="368.40" font-size="7.0" text-anchor="middle" fill="#cc4066" stroke="#cc4066" stroke-width="0.18" textLength="3.78" lengthAdjust="spacingAndGlyphs">4</text>
<text x="225.82" y="378.90" font-size="7.0" text-anchor="middle" fill="#356c94" stroke="#356c94" stroke-width="0.18" textLength="3.78" lengthAdjust="spacingAndGlyphs">0</text>
<text x="254.39" y="368.40" font-size="7.0" text-anchor="middle" fill="#cc4066" stroke="#cc4066" stroke-width="0.18" textLength="3.78" lengthAdjust="spacingAndGlyphs">0</text>
<text x="254.39" y="378.90" font-size="7.0" text-anchor="middle" fill="#356c94" stroke="#356c94" stroke-width="0.18" textLength="3.78" lengthAdjust="spacingAndGlyphs">0</text>
<text x="309.40" y="370.00" font-size="7.0" text-anchor="middle" fill="#cc4066" stroke="#cc4066" stroke-width="0.18" textLength="11.33" lengthAdjust="spacingAndGlyphs">228</text>
<text x="309.40" y="379.90" font-size="7.0" text-anchor="middle" fill="#356c94" stroke="#356c94" stroke-width="0.18" textLength="11.33" lengthAdjust="spacingAndGlyphs">181</text>
<text x="338.00" y="370.00" font-size="7.0" text-anchor="middle" fill="#cc4066" stroke="#cc4066" stroke-width="0.18" textLength="11.33" lengthAdjust="spacingAndGlyphs">217</text>
<text x="338.00" y="379.90" font-size="7.0" text-anchor="middle" fill="#356c94" stroke="#356c94" stroke-width="0.18" textLength="11.33" lengthAdjust="spacingAndGlyphs">181</text>
<text x="366.60" y="370.00" font-size="7.0" text-anchor="middle" fill="#cc4066" stroke="#cc4066" stroke-width="0.18" textLength="11.33" lengthAdjust="spacingAndGlyphs">209</text>
<text x="366.60" y="379.90" font-size="7.0" text-anchor="middle" fill="#356c94" stroke="#356c94" stroke-width="0.18" textLength="11.33" lengthAdjust="spacingAndGlyphs">179</text>
<text x="395.20" y="370.00" font-size="7.0" text-anchor="middle" fill="#cc4066" stroke="#cc4066" stroke-width="0.18" textLength="11.33" lengthAdjust="spacingAndGlyphs">187</text>
<text x="395.20" y="379.90" font-size="7.0" text-anchor="middle" fill="#356c94" stroke="#356c94" stroke-width="0.18" textLength="11.33" lengthAdjust="spacingAndGlyphs">112</text>
<text x="423.80" y="370.00" font-size="7.0" text-anchor="middle" fill="#cc4066" stroke="#cc4066" stroke-width="0.18" textLength="11.33" lengthAdjust="spacingAndGlyphs">160</text>
<text x="423.80" y="379.90" font-size="7.0" text-anchor="middle" fill="#356c94" stroke="#356c94" stroke-width="0.18" textLength="7.55" lengthAdjust="spacingAndGlyphs">37</text>
<text x="452.40" y="370.00" font-size="7.0" text-anchor="middle" fill="#cc4066" stroke="#cc4066" stroke-width="0.18" textLength="11.33" lengthAdjust="spacingAndGlyphs">141</text>
<text x="452.40" y="379.90" font-size="7.0" text-anchor="middle" fill="#356c94" stroke="#356c94" stroke-width="0.18" textLength="3.78" lengthAdjust="spacingAndGlyphs">0</text>
<text x="481.00" y="370.00" font-size="7.0" text-anchor="middle" fill="#cc4066" stroke="#cc4066" stroke-width="0.18" textLength="7.55" lengthAdjust="spacingAndGlyphs">21</text>
<text x="481.00" y="379.90" font-size="7.0" text-anchor="middle" fill="#356c94" stroke="#356c94" stroke-width="0.18" textLength="3.78" lengthAdjust="spacingAndGlyphs">0</text>
<text x="509.60" y="370.00" font-size="7.0" text-anchor="middle" fill="#cc4066" stroke="#cc4066" stroke-width="0.18" textLength="3.78" lengthAdjust="spacingAndGlyphs">0</text>
<text x="509.60" y="379.90" font-size="7.0" text-anchor="middle" fill="#356c94" stroke="#356c94" stroke-width="0.18" textLength="3.78" lengthAdjust="spacingAndGlyphs">0</text>
<rect x="0.5" y="0.5" width="519" height="387" fill="none" stroke="#444" stroke-width="1"/>
</svg></div></body></html>
